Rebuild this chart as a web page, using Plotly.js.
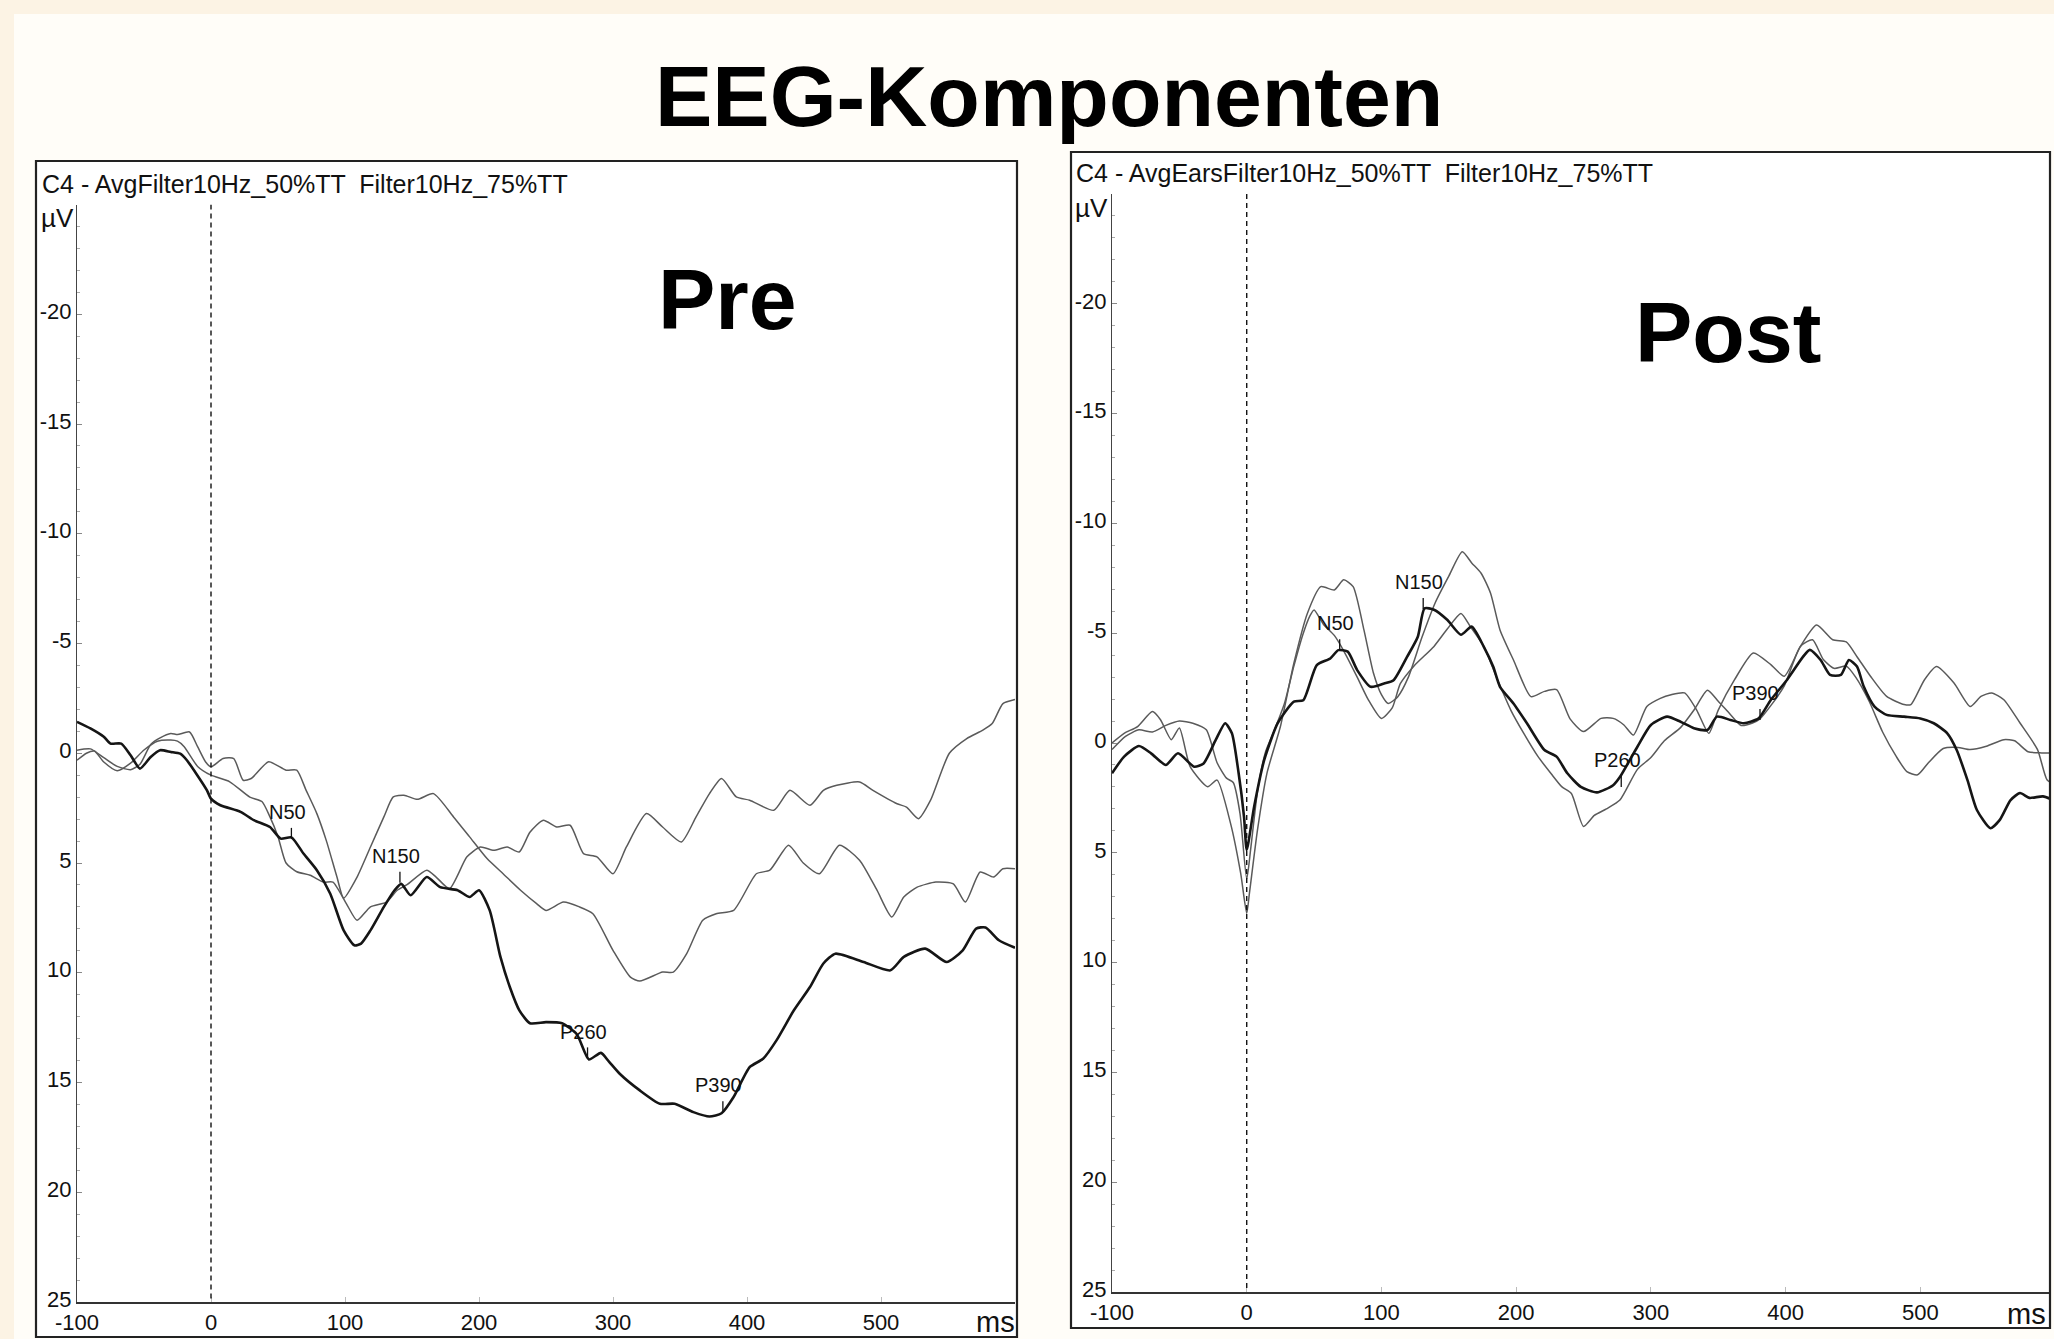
<!DOCTYPE html>
<html><head><meta charset="utf-8">
<script src="https://cdn.plot.ly/plotly-3.0.1.min.js"></script>
<style>html,body{margin:0;padding:0;background:#FCF3E4;} #chart{width:2054px;height:1339px;}</style>
</head><body><div id="chart"></div>
<script>
// ---------------- DATA ----------------
const xTickVals = [-100, 0, 100, 200, 300, 400, 500];
const yTickVals = [-20, -15, -10, -5, 0, 5, 10, 15, 20, 25];

// Pre panel
const preBlackMs = [-100,-90,-80,-75,-67,-60,-53,-45,-38,-30,-23,-18,-11,-3,0,7,22,32,44,52,60,69,79,89,99,107,112,119,129,137,142,149,161,171,184,193,200,208,216,223,230,238,250,262,273,282,291,297,305,320,335,346,360,372,381,390,402,412,422,435,447,457,466,487,507,517,533,549,561,571,578,588,600];
const preBlackUv = [-1.43,-1.13,-0.75,-0.44,-0.44,0.09,0.70,0.17,-0.14,-0.06,0.02,0.32,0.93,1.69,2.07,2.37,2.67,3.05,3.36,3.89,3.83,4.57,5.33,6.4,8.07,8.75,8.67,8.07,7.0,6.24,5.95,6.47,5.64,6.1,6.24,6.55,6.24,7.16,9.28,10.65,11.7,12.3,12.25,12.3,12.8,13.95,13.65,14.05,14.6,15.36,15.97,15.97,16.35,16.55,16.4,15.66,14.3,13.92,13.08,11.71,10.65,9.58,9.13,9.51,9.89,9.28,8.9,9.51,8.98,7.99,7.94,8.52,8.86];

const preGrayAMs = [-100,-90,-80,-70,-60,-53,-45,-38,-30,-25,-16,-10,-4,0,9,17,24,30,43,56,64,71,79,86,94,99,109,119,129,136,144,154,166,181,193,206,218,231,243,250,263,275,285,300,313,320,337,345,355,367,377,390,407,417,431,442,454,469,484,497,508,517,527,541,554,563,574,584,591,600];
const preGrayAUv = [-0.14,-0.2,0.2,0.6,0.75,0.5,-0.4,-0.7,-0.9,-0.85,-0.97,-0.3,0.4,0.62,0.24,0.24,1.23,1.15,0.39,0.77,0.77,1.69,2.75,3.97,5.64,6.6,5.64,4.27,2.9,1.99,1.91,2.1,1.84,2.9,3.81,4.8,5.49,6.24,6.85,7.16,6.78,7.0,7.31,8.98,10.2,10.38,9.97,9.97,9.13,7.61,7.31,7.16,5.49,5.33,4.19,5.0,5.49,4.19,4.87,6.24,7.46,6.55,6.1,5.87,5.95,6.78,5.41,5.64,5.26,5.26];

const preGrayBMs = [-100,-93,-87,-80,-70,-60,-50,-40,-30,-25,-20,-10,0,14,29,38,44,50,56,64,74,84,91,101,109,119,131,139,146,161,168,178,191,201,211,221,230,238,248,258,268,278,288,300,310,325,337,351,362,372,381,392,402,420,432,447,457,467,484,494,512,519,528,537,551,564,576,583,591,600];
const preGrayBUv = [0.32,0.0,-0.1,0.4,0.8,0.45,-0.15,-0.55,-0.6,-0.55,-0.3,0.6,1.0,1.3,2.0,2.2,2.9,3.8,5.0,5.4,5.56,5.87,5.87,6.85,7.61,7.0,6.78,6.24,6.0,5.33,5.64,6.17,4.72,4.27,4.42,4.27,4.5,3.6,3.05,3.36,3.28,4.57,4.72,5.49,4.27,2.75,3.36,4.04,2.9,1.84,1.15,1.99,2.14,2.6,1.69,2.37,1.69,1.46,1.31,1.69,2.3,2.45,2.98,2.14,0.0,-0.67,-1.05,-1.35,-2.26,-2.45];

const prePeakNames = ['N50', 'N150', 'P260', 'P390'];
const prePeakMs = [60, 141, 281, 382];
const prePeakUv = [3.9, 5.9, 13.9, 16.35];

// Post panel
const postBlackMs = [-100,-91,-80,-71,-60,-51,-39,-32,-23,-16,-11,-6,-2,0,5.5,13,23,35,42,52,62,68,75,82,92,102,109,119,127,132,139,149,159,167,176,183,188,198,208,221,230,238,248,260,272,277,290,300,312,322,332,342,349,359,369,380,389,401,413,418,426,433,441,447,453,458,466,475,488,500,510,520,527,535,542,552,559,567,574,581,591,599];
const postBlackUv = [1.38,0.62,0.14,0.47,1.0,0.47,1.08,0.93,-0.14,-0.9,-0.44,1.38,3.36,4.87,2.9,0.77,-0.9,-1.88,-1.95,-3.55,-3.85,-4.23,-4.16,-3.32,-2.56,-2.71,-2.86,-3.92,-4.84,-6.13,-6.07,-5.6,-4.93,-5.3,-4.38,-3.47,-2.56,-1.8,-0.9,0.32,0.62,1.38,2.0,2.25,1.92,1.55,0.17,-0.82,-1.2,-0.97,-0.67,-0.59,-1.2,-1.05,-0.9,-1.12,-1.96,-2.87,-3.93,-4.24,-3.78,-3.1,-3.1,-3.78,-3.48,-2.57,-1.66,-1.28,-1.2,-1.12,-0.9,-0.44,0.32,1.69,3.05,3.88,3.5,2.6,2.28,2.5,2.43,2.6];

const postGrayAMs = [-100,-91,-81,-70,-64,-56,-50,-42,-29,-22,-12,-4.5,0,2,8,15,25,35,45,55,65,72,79,87,94,100,105,112,120,130,140,150,160,167,174,181,188,198,211,221,230,240,250,263,272,280,287,297,307,315,325,334,343,350,362,376,389,399,411,423,435,445,453,463,475,488,493,503,512,525,537,545,553,562,574,587,594,600];
const postGrayAUv = [0.0,-0.44,-0.75,-1.43,-1.06,-0.15,-0.68,1.08,1.99,1.69,3.66,5.93,7.76,6.85,3.96,1.38,-0.75,-3.63,-5.9,-7.12,-6.97,-7.43,-7.12,-5.15,-3.2,-2.2,-1.8,-2.1,-3.0,-4.8,-6.4,-7.6,-8.71,-8.2,-7.73,-6.82,-5.15,-3.78,-2.11,-2.35,-2.43,-1.1,-0.52,-1.12,-1.12,-0.82,-0.36,-1.66,-2.03,-2.2,-2.28,-1.5,-0.44,-1.5,-2.87,-4.1,-3.57,-3.04,-4.4,-5.37,-4.7,-4.6,-3.93,-3.04,-2.12,-1.75,-1.75,-2.87,-3.48,-2.73,-1.66,-2.12,-2.28,-1.97,-0.91,0.3,1.67,1.9];

const postGrayBMs = [-100,-90,-80,-70,-60,-50,-40,-30,-22,-15,-10,-5,0,3,8,14,20,28,35,42,47,50,57,65,72,82,90,100,108,114,124,139,149,159,166,176,186,196,206,216,226,234,241,250,258,267,277,290,300,310,322,332,342,350,359,367,375,381,389,399,411,420,428,436,445,452,462,472,482,490,498,506,517,528,537,549,562,570,580,590,600];
const postGrayBUv = [0.3,-0.3,-0.6,-0.5,-0.8,-1.0,-0.9,-0.6,0.9,1.6,1.8,3.2,6.2,4.8,2.2,0.4,-0.5,-1.8,-3.5,-5.0,-5.8,-6.06,-5.4,-4.9,-4.2,-3.0,-2.0,-1.12,-1.6,-2.7,-3.5,-4.4,-5.2,-5.9,-5.3,-4.4,-2.9,-1.5,-0.4,0.6,1.4,2.0,2.3,3.8,3.3,3.0,2.6,1.2,0.66,-0.1,-0.7,-1.5,-2.4,-1.9,-1.3,-0.8,-0.9,-1.1,-1.7,-2.6,-4.4,-4.7,-3.8,-3.4,-3.5,-3.0,-1.9,-0.5,0.6,1.3,1.45,0.9,0.25,0.2,0.3,0.15,-0.15,-0.1,0.4,0.45,0.45];

const postPeakNames = ['N50', 'N150', 'P260', 'P390'];
const postPeakMs = [69, 131, 278, 381];
const postPeakUv = [-4.23, -6.1, 2.0, -1.05];

const mainTitle = 'EEG-Komponenten';
const preHeader = 'C4 - AvgFilter10Hz_50%TT  Filter10Hz_75%TT';
const postHeader = 'C4 - AvgEarsFilter10Hz_50%TT  Filter10Hz_75%TT';
const preLabel = 'Pre';
const postLabel = 'Post';
const yUnit = 'µV';
const xUnit = 'ms';

// ---------------- LAYOUT HELPERS ----------------
const W = 2054, H = 1339;
const fx = v => v / W;
const fy = v => 1 - v / H;
const ARIAL = '"Liberation Sans", Arial, sans-serif';

function curve(ms, uv, xa, ya, color, width) {
  return {type: 'scatter', mode: 'lines', x: ms, y: uv, xaxis: xa, yaxis: ya,
    line: {color: color, width: width, shape: 'spline', smoothing: 0.6},
    hoverinfo: 'skip', showlegend: false};
}
function peakTicks(ms, uv, xa, ya) {
  const x = [], y = [];
  ms.forEach((m, i) => { x.push(m, m, null); y.push(uv[i], uv[i] - 0.5, null); });
  return {type: 'scatter', mode: 'lines', x: x, y: y, xaxis: xa, yaxis: ya,
    line: {color: '#111', width: 1.3}, hoverinfo: 'skip', showlegend: false};
}
function peakLabels(names, ms, uv, xr, yr) {
  return names.map((n, i) => ({text: n, x: ms[i] - 3, y: uv[i] - 1.22, xref: xr, yref: yr,
    showarrow: false, xanchor: 'center', yanchor: 'middle',
    font: {family: ARIAL, size: 20, color: '#111'}}));
}

const traces = [
  curve(preGrayAMs, preGrayAUv, 'x', 'y', '#5a5a5a', 1.5),
  curve(preGrayBMs, preGrayBUv, 'x', 'y', '#5a5a5a', 1.5),
  curve(preBlackMs, preBlackUv, 'x', 'y', '#151515', 2.6),
  peakTicks(prePeakMs, prePeakUv, 'x', 'y'),
  curve(postGrayAMs, postGrayAUv, 'x2', 'y2', '#5a5a5a', 1.5),
  curve(postGrayBMs, postGrayBUv, 'x2', 'y2', '#5a5a5a', 1.5),
  curve(postBlackMs, postBlackUv, 'x2', 'y2', '#151515', 2.6),
  peakTicks(postPeakMs, postPeakUv, 'x2', 'y2')
];

function xAxis(domain, range, anchor) {
  return {domain: domain, range: range, anchor: anchor, tickvals: xTickVals,
    ticktext: xTickVals.map(String), showgrid: false, zeroline: false,
    showline: true, linecolor: '#333', linewidth: 1.6,
    ticks: 'inside', ticklen: 5, tickcolor: '#bbb', tickwidth: 1,
    tickfont: {family: ARIAL, size: 22, color: '#111'}, fixedrange: true};
}
function yAxis(domain, anchor) {
  return {domain: domain, range: [25, -25], anchor: anchor, tickvals: yTickVals,
    ticktext: yTickVals.map(String), showgrid: false, zeroline: false,
    showline: true, linecolor: '#444', linewidth: 1,
    ticks: 'inside', ticklen: 5, tickcolor: '#888', tickwidth: 1,
    ticklabelshift: 3,
    minor: {dtick: 1, ticks: 'inside', ticklen: 3, tickcolor: '#aaa', tickwidth: 1},
    tickfont: {family: ARIAL, size: 22, color: '#111'}, fixedrange: true};
}

const shapes = [
  {type: 'rect', xref: 'paper', yref: 'paper', x0: fx(14), x1: 1, y0: 0, y1: fy(14),
   fillcolor: '#FFFDF8', line: {width: 0}, layer: 'below'},
  {type: 'rect', xref: 'paper', yref: 'paper', x0: fx(36), x1: fx(1017), y0: fy(1337), y1: fy(161),
   fillcolor: '#FFFFFF', line: {width: 0}, layer: 'below'},
  {type: 'rect', xref: 'paper', yref: 'paper', x0: fx(1071), x1: fx(2050), y0: fy(1328), y1: fy(152),
   fillcolor: '#FFFFFF', line: {width: 0}, layer: 'below'},
  {type: 'rect', xref: 'paper', yref: 'paper', x0: fx(36), x1: fx(1017), y0: fy(1337), y1: fy(161),
   fillcolor: 'rgba(0,0,0,0)', line: {width: 2.2, color: '#222'}, layer: 'above'},
  {type: 'rect', xref: 'paper', yref: 'paper', x0: fx(1071), x1: fx(2050), y0: fy(1328), y1: fy(152),
   fillcolor: 'rgba(0,0,0,0)', line: {width: 2.2, color: '#222'}, layer: 'above'},
  {type: 'line', xref: 'x', yref: 'y', x0: 0, x1: 0, y0: -25, y1: 25,
   line: {color: '#111', width: 1.4, dash: '5px,4px'}},
  {type: 'line', xref: 'x2', yref: 'y2', x0: 0, x1: 0, y0: -25, y1: 25,
   line: {color: '#111', width: 1.4, dash: '5px,4px'}}
];

const annotations = [
  {text: mainTitle, xref: 'paper', yref: 'paper', x: fx(1049), y: fy(96), showarrow: false,
   xanchor: 'center', yanchor: 'middle', font: {family: ARIAL, size: 86, weight: 700, color: '#000'}},
  {text: preLabel, xref: 'paper', yref: 'paper', x: fx(727), y: fy(299), showarrow: false,
   xanchor: 'center', yanchor: 'middle', font: {family: ARIAL, size: 86, weight: 700, color: '#000'}},
  {text: postLabel, xref: 'paper', yref: 'paper', x: fx(1728), y: fy(332), showarrow: false,
   xanchor: 'center', yanchor: 'middle', font: {family: ARIAL, size: 86, weight: 700, color: '#000'}},
  {text: preHeader, xref: 'paper', yref: 'paper', x: fx(40), y: fy(184), showarrow: false,
   xanchor: 'left', yanchor: 'middle', font: {family: ARIAL, size: 25, color: '#111'}},
  {text: postHeader, xref: 'paper', yref: 'paper', x: fx(1074), y: fy(173), showarrow: false,
   xanchor: 'left', yanchor: 'middle', font: {family: ARIAL, size: 25, color: '#111'}},
  {text: yUnit, xref: 'paper', yref: 'paper', x: fx(57), y: fy(218), showarrow: false,
   xanchor: 'center', yanchor: 'middle', font: {family: ARIAL, size: 26, color: '#111'}},
  {text: yUnit, xref: 'paper', yref: 'paper', x: fx(1091), y: fy(208), showarrow: false,
   xanchor: 'center', yanchor: 'middle', font: {family: ARIAL, size: 26, color: '#111'}},
  {text: xUnit, xref: 'paper', yref: 'paper', x: fx(995), y: fy(1322), showarrow: false,
   xanchor: 'center', yanchor: 'middle', font: {family: ARIAL, size: 29, color: '#111'}},
  {text: xUnit, xref: 'paper', yref: 'paper', x: fx(2026), y: fy(1314), showarrow: false,
   xanchor: 'center', yanchor: 'middle', font: {family: ARIAL, size: 29, color: '#111'}}
].concat(peakLabels(prePeakNames, prePeakMs, prePeakUv, 'x', 'y'))
 .concat(peakLabels(postPeakNames, postPeakMs, postPeakUv, 'x2', 'y2'));

const layout = {
  width: W, height: H, autosize: false,
  margin: {l: 0, r: 0, t: 0, b: 0, pad: 0},
  paper_bgcolor: '#FCF3E4', plot_bgcolor: '#FFFFFF',
  showlegend: false,
  xaxis: xAxis([fx(77), fx(1015)], [-100, 600], 'y'),
  yaxis: yAxis([1 - 1302 / H, 1 - 204.5 / H], 'x'),
  xaxis2: xAxis([fx(1112), fx(2051)], [-100, 597], 'y2'),
  yaxis2: yAxis([1 - 1292 / H, 1 - 194 / H], 'x2'),
  shapes: shapes,
  annotations: annotations
};

Plotly.newPlot('chart', traces, layout, {staticPlot: true, displayModeBar: false});
</script>
</body></html>
